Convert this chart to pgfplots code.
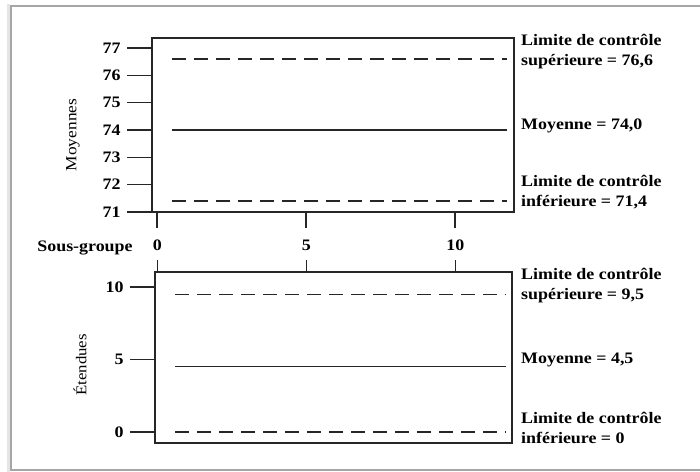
\documentclass[border=0pt]{standalone}
\usepackage{fontspec}
\setmainfont{Liberation Serif}[FakeStretch=1.12]
\usepackage{pgfplots}
\pgfplotsset{compat=1.18}

\pgfplotsset{
  carte/.style={
    scale only axis,
    axis line style={black!85, line width=1.3bp},
    tick style={black!85, line width=1.3bp},
    tick align=outside,
    ytick pos=left,
    major tick length=25bp,
    ticklabel style={font=\fontsize{16bp}{18bp}\selectfont\bfseries},
    yticklabel style={xshift=-1bp},
    /pgf/number format/assume math mode=true,
    /pgf/number format/1000 sep={},
    clip=false,
  },
  moy/.style={black!85, line width=1.2bp},
  lim/.style={black!85, line width=1.2bp, dash pattern=on 14bp off 8bp},
}

\begin{document}
\fontsize{16bp}{20bp}\selectfont
\begin{tikzpicture}[x=1bp,y=1bp]
\useasboundingbox (0,0) rectangle (700,472);
\fill[white] (0,0) rectangle (700,472);
% cadre de la capture
\draw[black!10, line width=3bp] (8.5,0) -- (8.5,468);
\draw[black!35, line width=1.2bp] (11,2) rectangle (705,466);

% moyennes
\begin{axis}[carte,
  at={(152bp,260bp)}, anchor=south west,
  width=362bp, height=174bp,
  xmin=-0.17, xmax=11.98, ymin=71, ymax=77.37,
  xtick={0,5,10}, xticklabels={},
  xtick pos=bottom,
  xtick style={/pgfplots/major tick length=16bp},
  ytick={71,72,73,74,75,76,77},
]
\addplot[lim] coordinates {(0.5,76.6) (11.75,76.6)};
\addplot[moy] coordinates {(0.5,74.0) (11.75,74.0)};
\addplot[lim] coordinates {(0.5,71.4) (11.75,71.4)};
\end{axis}

% etendues
\begin{axis}[carte,
  at={(155bp,29bp)}, anchor=south west,
  width=357bp, height=171bp,
  xmin=-0.08, xmax=11.9, ymin=-0.76, ymax=11.03,
  xtick={0,5,10},
  xtick pos=top, xticklabel pos=top,
  xtick style={/pgfplots/major tick length=12bp},
  xticklabel style={yshift=-9bp},
  ytick={0,5,10},
]
\addplot[lim] coordinates {(0.6,9.5) (11.7,9.5)};
\addplot[moy] coordinates {(0.6,4.5) (11.7,4.5)};
\addplot[lim] coordinates {(0.6,0) (11.7,0)};
\end{axis}

% titres des axes
\node[rotate=90, font=\fontsize{15.5bp}{18bp}\selectfont] at (73,337) {Moyennes};
\node[rotate=90, font=\fontsize{15bp}{18bp}\selectfont] at (80,107) {Étendues};
\node[font=\bfseries] at (85,224) {Sous-groupe};

% annotations
\begin{scope}[every node/.style={anchor=west, align=left, inner sep=0pt, font=\bfseries}]
\node at (521,420) {Limite de contrôle\\supérieure = 76,6};
\node at (521,346) {Moyenne = 74,0};
\node at (521,279.5) {Limite de contrôle\\inférieure = 71,4};
\node at (521,186) {Limite de contrôle\\supérieure = 9,5};
\node at (521,112) {Moyenne = 4,5};
\node at (521,44.5) {Limite de contrôle\\inférieure = 0};
\end{scope}
\end{tikzpicture}
\end{document}
